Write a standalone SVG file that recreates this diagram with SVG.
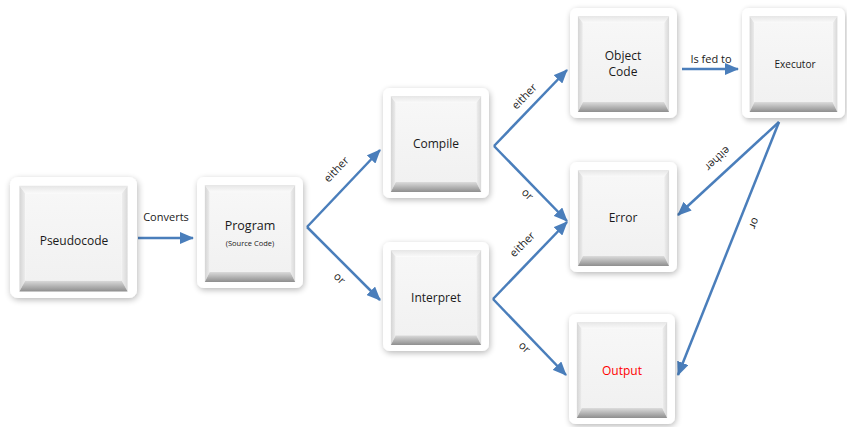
<svg xmlns="http://www.w3.org/2000/svg" width="847" height="427" viewBox="0 0 847 427">
  <style>
    .lbl { font-family: "Open Sans", "Liberation Sans", sans-serif; font-size: 12px; fill: #1a1a1a; text-anchor: middle; }
    .big { font-size: 12.5px; }
    .small { font-size: 7.5px; }
    .edge { font-family: "Open Sans", "Liberation Sans", sans-serif; font-size: 11px; fill: #1a1a1a; text-anchor: middle; }
    .conn { stroke: #4a7ebb; stroke-width: 2.5; fill: none; marker-end: url(#head); }
  </style>
  <defs>
    <filter id="shadow" x="-20%" y="-20%" width="140%" height="140%">
      <feGaussianBlur in="SourceAlpha" stdDeviation="3"/>
      <feOffset dx="1" dy="2" result="b"/>
      <feComponentTransfer><feFuncA type="linear" slope="0.28"/></feComponentTransfer>
      <feMerge><feMergeNode/><feMergeNode in="SourceGraphic"/></feMerge>
    </filter>
    <linearGradient id="faceG" x1="0" y1="0" x2="0" y2="1">
      <stop offset="0" stop-color="#f7f7f7"/>
      <stop offset="1" stop-color="#f1f1f1"/>
    </linearGradient>
    <linearGradient id="botG" x1="0" y1="0" x2="0" y2="1">
      <stop offset="0" stop-color="#dcdcdc"/>
      <stop offset="1" stop-color="#8e8e8e"/>
    </linearGradient>
    <linearGradient id="leftG" x1="0" y1="0" x2="1" y2="0">
      <stop offset="0" stop-color="#d4d4d4"/>
      <stop offset="1" stop-color="#ededed"/>
    </linearGradient>
    <linearGradient id="rightG" x1="0" y1="0" x2="1" y2="0">
      <stop offset="0" stop-color="#efefef"/>
      <stop offset="1" stop-color="#d8d8d8"/>
    </linearGradient>
    <linearGradient id="topG" x1="0" y1="0" x2="0" y2="1">
      <stop offset="0" stop-color="#e6e6e6"/>
      <stop offset="1" stop-color="#fafafa"/>
    </linearGradient>
    <!-- bevelled key shape: white plate, sunken frame, flat face -->
    <symbol id="key" viewBox="0 0 108 110" preserveAspectRatio="none" overflow="visible">
      <rect x="0" y="0" width="108" height="110" rx="7" fill="#ffffff" filter="url(#shadow)"/>
      <polygon points="8,8 100,8 95,15 13,15" fill="url(#topG)"/>
      <polygon points="8,8 13,15 13,94 8,104" fill="url(#leftG)"/>
      <polygon points="100,8 100,104 95,94 95,15" fill="url(#rightG)"/>
      <polygon points="8,104 13,94 95,94 100,104" fill="url(#botG)"/>
      <rect x="13" y="15" width="82" height="79" fill="url(#faceG)"/>
    </symbol>
    <marker id="head" viewBox="0 0 14 12" refX="13" refY="6" markerWidth="14" markerHeight="12" markerUnits="userSpaceOnUse" orient="auto">
      <path d="M0,0 L14,6 L0,12 z" fill="#4a7ebb"/>
    </marker>
  </defs>

  <g id="connectors">
    <line class="conn" x1="138" y1="238" x2="193" y2="238"/>
    <line class="conn" x1="307" y1="227" x2="380" y2="150"/>
    <line class="conn" x1="307" y1="227" x2="380" y2="300"/>
    <line class="conn" x1="494" y1="146" x2="567" y2="70"/>
    <line class="conn" x1="494" y1="146" x2="567" y2="221"/>
    <line class="conn" x1="493" y1="299" x2="567" y2="222"/>
    <line class="conn" x1="493" y1="299" x2="566" y2="375"/>
    <line class="conn" x1="682" y1="69" x2="738" y2="69"/>
    <line class="conn" x1="779" y1="122" x2="678" y2="215"/>
    <line class="conn" x1="779" y1="122" x2="678" y2="375"/>
    <text class="edge" x="166" y="221">Converts</text>
    <text class="edge" transform="translate(339,172) rotate(-46)">either</text>
    <text class="edge" transform="translate(337,281) rotate(45)">or</text>
    <text class="edge" transform="translate(527,99) rotate(-46)">either</text>
    <text class="edge" transform="translate(525,197) rotate(45)">or</text>
    <text class="edge" transform="translate(525,247) rotate(-45)">either</text>
    <text class="edge" transform="translate(522,350) rotate(45)">or</text>
    <text class="edge" x="711" y="63">Is fed to</text>
    <text class="edge" transform="translate(715,156) rotate(137)">either</text>
    <text class="edge" transform="translate(751,222) rotate(112)">or</text>
  </g>

  <g id="pseudocode">
    <use href="#key" x="10" y="177" width="127" height="121"/>
    <text class="lbl" x="74" y="245">Pseudocode</text>
  </g>
  <g id="program">
    <use href="#key" x="197" y="177" width="106" height="111"/>
    <text class="lbl big" x="250" y="230">Program</text>
    <text class="lbl small" x="250" y="246">(Source Code)</text>
  </g>
  <g id="compile">
    <use href="#key" x="383" y="88" width="106" height="110"/>
    <text class="lbl" x="436" y="148">Compile</text>
  </g>
  <g id="interpret">
    <use href="#key" x="383" y="242" width="106" height="109"/>
    <text class="lbl" x="436" y="302">Interpret</text>
  </g>
  <g id="object-code">
    <use href="#key" x="570" y="8" width="107" height="110"/>
    <text class="lbl" x="623" y="60">Object</text>
    <text class="lbl" x="623" y="76">Code</text>
  </g>
  <g id="executor">
    <use href="#key" x="742" y="8" width="103" height="110"/>
    <text class="lbl small" style="font-size:10px" x="795" y="68">Executor</text>
  </g>
  <g id="error">
    <use href="#key" x="570" y="162" width="107" height="110"/>
    <text class="lbl" x="623" y="222">Error</text>
  </g>
  <g id="output">
    <use href="#key" x="569" y="314" width="106" height="110"/>
    <text class="lbl" x="622" y="375" style="fill:#ff0000">Output</text>
  </g>
</svg>
